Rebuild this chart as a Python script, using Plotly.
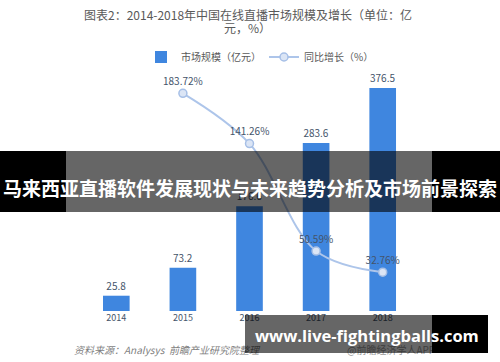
import plotly.graph_objects as go

years = ["2014", "2015", "2016", "2017", "2018"]
market_size = [25.8, 73.2, 176.6, 283.6, 376.5]
growth_years = ["2015", "2016", "2017", "2018"]
growth_rate = [183.72, 141.26, 50.59, 32.76]

bar_labels = [f"{v}" for v in market_size]
growth_labels = [f"{v:.2f}%" for v in growth_rate]

W, H = 500, 362
L, R, T, B = 83, 84, 74, 51
PW, PH = W - L - R, H - T - B


def px(x):
    return (x - L) / PW


def py(y):
    return (H - B - y) / PH


FONT = "Noto Sans CJK SC"

fig = go.Figure()
fig.add_trace(go.Bar(
    x=years, y=market_size, name="市场规模（亿元）",
    marker=dict(color="#3f86df", line=dict(width=0)),
    text=bar_labels, textposition="outside", cliponaxis=False,
    textfont=dict(size=10, color="#44546a", family=FONT),
))
fig.add_trace(go.Scatter(
    x=growth_years, y=growth_rate, name="同比增长（%）", yaxis="y2",
    mode="lines+markers+text", line=dict(color="#adc5ea", width=2, shape="spline"),
    marker=dict(size=8, color="#dbe5f5", line=dict(color="#a6bfe6", width=1.5)),
    text=growth_labels, textposition="top center", cliponaxis=False,
    textfont=dict(size=10, color="#44546a", family=FONT),
))

fig.update_layout(
    width=W, height=H,
    margin=dict(l=L, r=R, t=T, b=B),
    paper_bgcolor="white", plot_bgcolor="white",
    font=dict(family=FONT, color="#595959"),
    bargap=0.6,
    xaxis=dict(showgrid=False, showline=False, zeroline=False, ticks="",
               tickfont=dict(size=9, color="#44546a", family=FONT)),
    yaxis=dict(range=[0, 400], visible=False, showgrid=False),
    yaxis2=dict(range=[0, 200], visible=False, overlaying="y", side="right", showgrid=False),
    legend=dict(orientation="h", x=px(141), xanchor="left", y=py(57), yanchor="middle",
                font=dict(size=10, color="#595959", family=FONT),
                itemwidth=30, entrywidth=78, entrywidthmode="pixels",
                tracegroupgap=0, bgcolor="rgba(0,0,0,0)"),
    showlegend=True,
)

# Top overlay band
band_top, band_bot = 151, 212
for x0, x1, col in [(0, 66, "black"), (66, 432, "rgba(0,0,0,0.6)"), (432, 500, "black")]:
    fig.add_shape(type="rect", xref="paper", yref="paper",
                  x0=px(x0), x1=px(x1), y0=py(band_bot), y1=py(band_top),
                  fillcolor=col, line=dict(width=0), layer="above")

annotations = [
    dict(text="图表2：2014-2018年中国在线直播市场规模及增长（单位：亿",
         x=px(248), y=py(15), xanchor="center", yanchor="middle",
         font=dict(size=12, color="#595959", family=FONT)),
    dict(text="元，%）",
         x=px(247), y=py(28), xanchor="center", yanchor="middle",
         font=dict(size=12, color="#595959", family=FONT)),
    dict(text="<b>马来西亚直播软件发展现状与未来趋势分析及市场前景探索</b>",
         x=px(250), y=py(187), xanchor="center", yanchor="middle",
         font=dict(size=19, color="white", family=FONT)),
    dict(text="<i>资料来源：Analysys  前瞻产业研究院整理</i>",
         x=px(72), y=py(349), xanchor="left", yanchor="middle",
         font=dict(size=10, color="#7f7f7f", family=FONT)),
    dict(text="@前瞻经济学人APP",
         x=px(345), y=py(349), xanchor="left", yanchor="middle",
         font=dict(size=10, color="#9a9a9a", family=FONT)),
    dict(text="", x=px(245), y=py(315), xanchor="left", yanchor="top",
         width=432 - 245, height=353 - 315, bgcolor="rgba(0,0,0,0.6)",
         borderpad=0, borderwidth=0),
    dict(text="", x=px(432), y=py(315), xanchor="left", yanchor="top",
         width=488 - 432, height=353 - 315, bgcolor="black",
         borderpad=0, borderwidth=0),
    dict(text="<b>www.live-fightingballs.com</b>",
         x=px(367), y=py(335), xanchor="center", yanchor="middle",
         font=dict(size=16.5, color="white", family="Open Sans")),
]
for a in annotations:
    a.update(xref="paper", yref="paper", showarrow=False)
    fig.add_annotation(**a)

fig.write_html("out.html", config={"displayModeBar": False},
               post_script="document.body.style.margin='0';document.body.style.overflow='hidden';")
